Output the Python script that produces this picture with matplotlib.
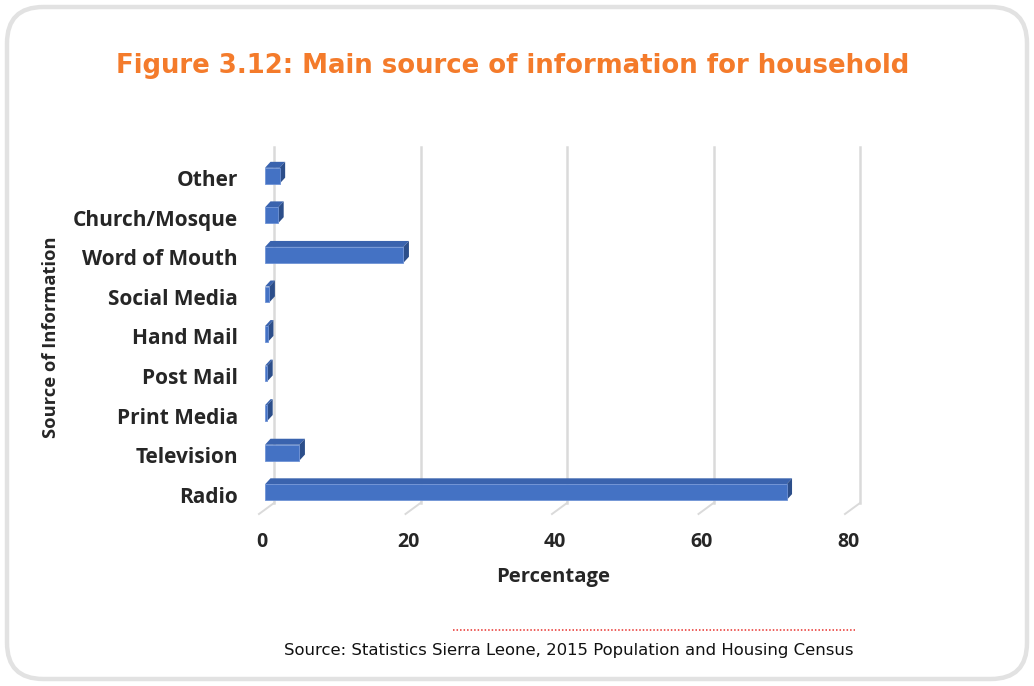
import matplotlib
matplotlib.use("Agg")
import matplotlib.pyplot as plt
from matplotlib.patches import FancyBboxPatch, Polygon
from matplotlib import transforms
from matplotlib.lines import Line2D

# Main source of information for household (percent)
categories = ["Radio", "Television", "Print Media", "Post Mail", "Hand Mail",
              "Social Media", "Word of Mouth", "Church/Mosque", "Other"]
values = [71.2, 4.7, 0.3, 0.3, 0.4, 0.6, 18.9, 1.8, 2.0]
x_ticks = [0, 20, 40, 60, 80]

title = "Figure 3.12: Main source of information for household"
source = "Source: Statistics Sierra Leone, 2015 Population and Housing Census"

W, H = 1034, 686
fig = plt.figure(figsize=(W / 100, H / 100), dpi=100)
fig.patch.set_facecolor("white")

# rounded frame around the figure
frame = FancyBboxPatch((7 / W, 7 / H), (W - 14) / W, (H - 14) / H,
                       boxstyle="round,pad=0,rounding_size=0.035",
                       transform=fig.transFigure, facecolor="white",
                       edgecolor="#e2e2e2", linewidth=3.2, zorder=0,
                       mutation_aspect=W / H)
fig.add_artist(frame)

fig.text(513 / W, 1 - 66 / H, title, ha="center", va="center",
         color="#F47B2B", fontsize=18.7, fontweight="bold",
         family="DejaVu Sans")

# plot area (pixel box of the bar plane)
left_px, right_px, top_px, bottom_px = 265, 851, 152, 512
ax = fig.add_axes([left_px / W, 1 - bottom_px / H,
                   (right_px - left_px) / W, (bottom_px - top_px) / H])
ax.set_xlim(0, 80)
ax.set_ylim(-0.5, 8.6)
ax.axis("off")

label_font = dict(family="Open Sans", fontweight="bold", color="#262626")

# back-wall gridlines and floor edges
xa = ax.get_xaxis_transform()
back = transforms.offset_copy(xa, fig=fig, x=9, y=0, units="dots")
front = transforms.offset_copy(xa, fig=fig, x=-6, y=0, units="dots")
y_floor_back = (bottom_px - 503) / (bottom_px - top_px)
y_floor_front = (bottom_px - 514) / (bottom_px - top_px)
y_top = (bottom_px - 147) / (bottom_px - top_px)
for t in x_ticks:
    ax.plot([t, t], [y_floor_back, y_top], transform=back, color="#dadada",
            lw=1.8, clip_on=False, zorder=1)
    p0 = back.transform((t, y_floor_back))
    p1 = front.transform((t, y_floor_front))
    fig.add_artist(Line2D([p0[0] / W, p1[0] / W], [p0[1] / H, p1[1] / H],
                          transform=fig.transFigure, color="#dadada", lw=1.4))

# 3D bars: front face plus top and side faces
bar_h = 0.40
ppx = (right_px - left_px) / 80.0
ppy = (bottom_px - top_px) / 9.1
ddx, ddy = 5.5 / ppx, 6.0 / ppy
front_c, top_c, side_c = "#4472C4", "#3A63AE", "#2C4E8A"
for i, v in enumerate(values):
    y0, y1 = i - bar_h / 2, i + bar_h / 2
    ax.add_patch(Polygon([(0, y1), (v, y1), (v + ddx, y1 + ddy), (ddx, y1 + ddy)],
                         closed=True, facecolor=top_c, edgecolor="none", zorder=3))
    ax.add_patch(Polygon([(v, y0), (v, y1), (v + ddx, y1 + ddy), (v + ddx, y0 + ddy)],
                         closed=True, facecolor=side_c, edgecolor="none", zorder=3))
    ax.barh(i, v, height=bar_h, color=front_c, edgecolor="#6f93d6",
            linewidth=0.6, zorder=4)

# category labels
label_tr = transforms.offset_copy(ax.transData, fig=fig, x=-27, y=-5, units="dots")
for i, c in enumerate(categories):
    ax.text(0, i, c, ha="right", va="center", fontsize=15,
            transform=label_tr, **label_font)

# x tick labels and axis titles
for t in x_ticks:
    xp = left_px + t * ppx - 3
    fig.text(xp / W, 1 - 542 / H, str(t), ha="center", va="center",
             fontsize=14, **label_font)
fig.text(553 / W, 1 - 577 / H, "Percentage", ha="center", va="center",
         fontsize=14.6, **label_font)
fig.text(51 / W, 1 - 337 / H, "Source of Information", ha="center",
         va="center", rotation=90, fontsize=13.2, **label_font)

# source note with dotted rule
fig.add_artist(Line2D([453 / W, 855 / W], [1 - 630 / H, 1 - 630 / H],
                      transform=fig.transFigure, color="#e8302c", lw=1.1,
                      linestyle=(0, (1, 1.3))))
fig.text(853 / W, 1 - 651 / H, source, ha="right", va="center",
         fontsize=11.85, color="#111111", family="DejaVu Sans")

fig.savefig("out.png", dpi=100)
